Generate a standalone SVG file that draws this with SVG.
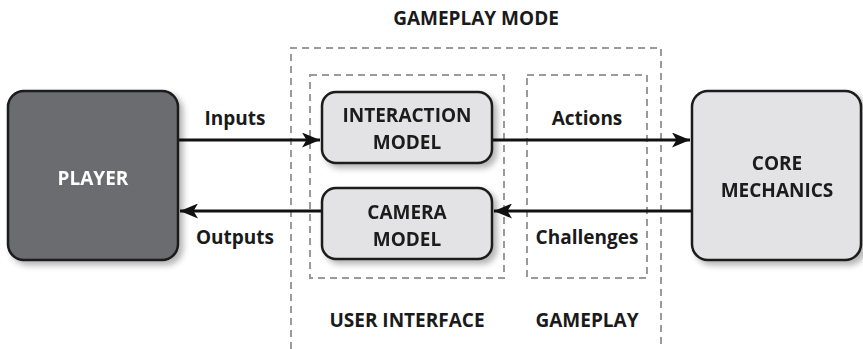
<svg xmlns="http://www.w3.org/2000/svg" width="863" height="349" viewBox="0 0 863 349">
<style>
.t{font-family:"Open Sans","DejaVu Sans",sans-serif;font-weight:700;font-size:19px;fill:#1a1a1a;text-anchor:middle}
.w{fill:#ffffff}
.box{stroke:#1a1a1a;stroke-width:2.5}
.light{fill:#e3e3e5}
.dark{fill:#6b6c70}
.dash{fill:none;stroke:#9a9a9a;stroke-width:2;stroke-dasharray:7 5}
.conn{stroke:#111;stroke-width:3;fill:none}
</style>
<defs>
<filter id="sh" x="-20%" y="-20%" width="150%" height="150%">
<feGaussianBlur in="SourceAlpha" stdDeviation="3"/>
<feOffset dx="4" dy="4" result="b"/>
<feComponentTransfer><feFuncA type="linear" slope="0.3"/></feComponentTransfer>
<feMerge><feMergeNode/><feMergeNode in="SourceGraphic"/></feMerge>
</filter>
<marker id="ah" viewBox="0 0 12 10" refX="12" refY="5" markerWidth="6" markerHeight="5" markerUnits="strokeWidth" orient="auto">
<path d="M0,0 L12,5 L0,10 L3,5 Z" fill="#111"/>
</marker>
</defs>
<rect width="863" height="349" fill="#fff"/>
<g id="frames">
<path class="dash" d="M291,349 V48 H661 V349"/>
<rect class="dash" x="310" y="75" width="194" height="203"/>
<rect class="dash" x="527" y="75" width="120" height="203"/>
<text class="t" x="476" y="25">GAMEPLAY MODE</text>
<text class="t" x="407" y="327">USER INTERFACE</text>
<text class="t" x="587" y="327">GAMEPLAY</text>
</g>
<g id="connectors">
<line class="conn" x1="178" y1="140" x2="320" y2="140" marker-end="url(#ah)"/>
<line class="conn" x1="492" y1="140" x2="690" y2="140" marker-end="url(#ah)"/>
<line class="conn" x1="692" y1="211" x2="494" y2="211" marker-end="url(#ah)"/>
<line class="conn" x1="322" y1="211" x2="180" y2="211" marker-end="url(#ah)"/>
<text class="t" x="235" y="125">Inputs</text>
<text class="t" x="235" y="244">Outputs</text>
<text class="t" x="587" y="125">Actions</text>
<text class="t" x="587" y="244">Challenges</text>
</g>
<g id="player" filter="url(#sh)">
<rect class="box dark" x="8" y="91" width="170" height="169" rx="16"/>
<text class="t w" x="93" y="185">PLAYER</text>
</g>
<g id="interaction-model" filter="url(#sh)">
<rect class="box light" x="322" y="92" width="170" height="71" rx="14"/>
<text class="t" x="407" y="122">INTERACTION</text>
<text class="t" x="407" y="149">MODEL</text>
</g>
<g id="camera-model" filter="url(#sh)">
<rect class="box light" x="322" y="188" width="170" height="71" rx="14"/>
<text class="t" x="407" y="219">CAMERA</text>
<text class="t" x="407" y="246">MODEL</text>
</g>
<g id="core-mechanics" filter="url(#sh)">
<rect class="box light" x="692" y="91" width="169" height="169" rx="16"/>
<text class="t" x="777" y="170">CORE</text>
<text class="t" x="777" y="197">MECHANICS</text>
</g>
</svg>
